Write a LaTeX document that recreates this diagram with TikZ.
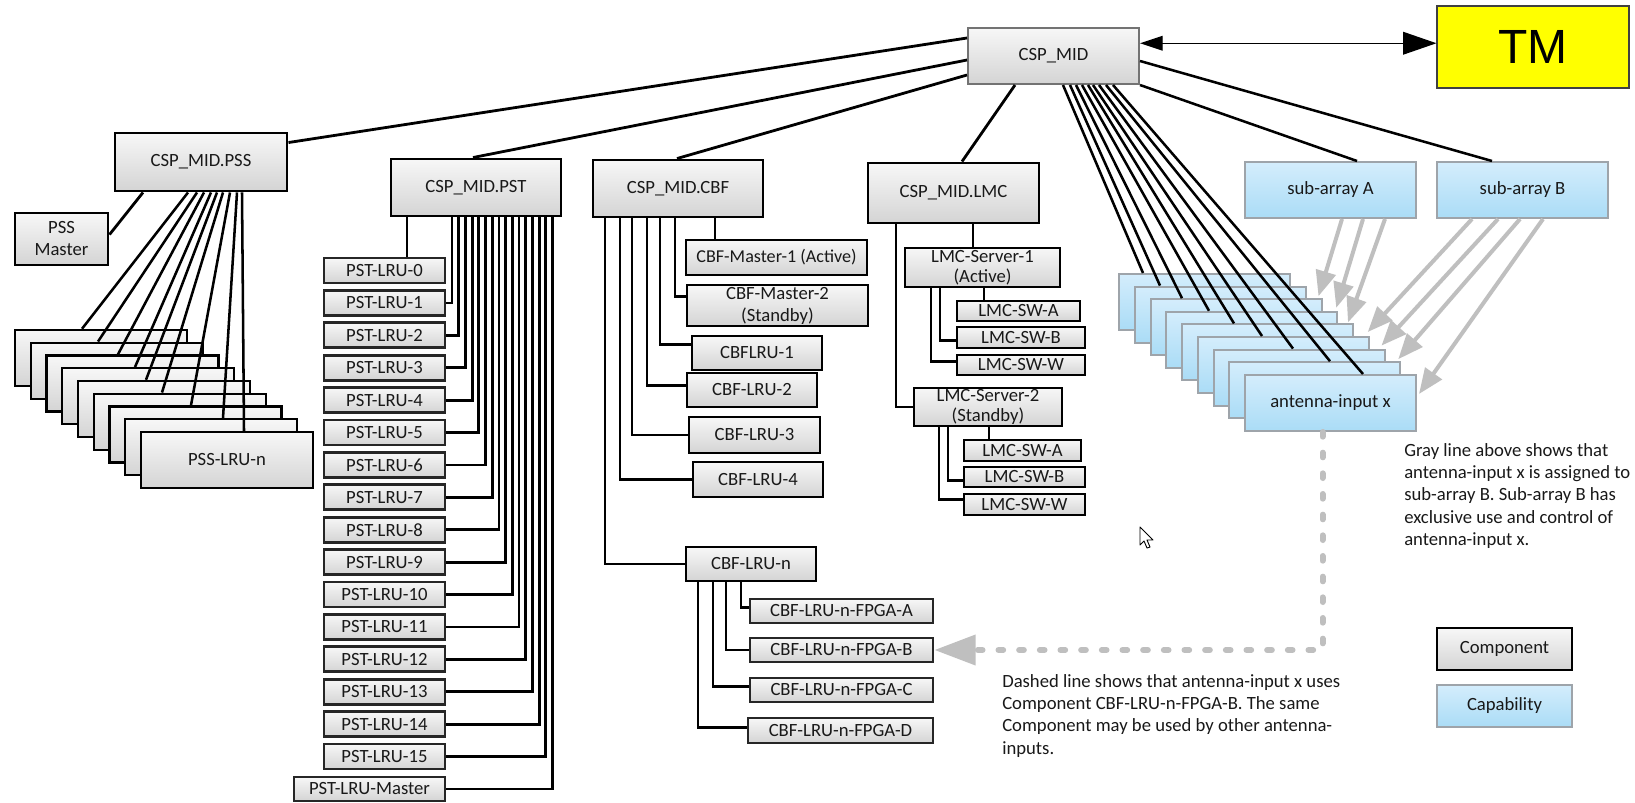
\documentclass[tikz,border=0pt]{standalone}
\usepackage{fontspec}
\setmainfont{Carlito}
\newfontfamily\tmfont{Liberation Sans}
\usetikzlibrary{arrows.meta,calc}

\definecolor{comptop}{RGB}{247,247,247}
\definecolor{compbot}{RGB}{212,212,212}
\definecolor{captop}{RGB}{212,237,252}
\definecolor{capbot}{RGB}{170,220,246}
\definecolor{capline}{RGB}{158,164,170}
\definecolor{assign}{RGB}{191,191,191}
\definecolor{tmyellow}{RGB}{255,255,0}
\definecolor{ink}{RGB}{25,25,25}

% box from its corner coordinates: style, name, x1, y1, x2, y2, text
\newcommand\boxnode[7]{%
  \node[#1, minimum width={((#5)-(#3))*0.75pt}, minimum height={((#6)-(#4))*0.75pt}]
    (#2) at ({((#3)+(#5))/2},{((#4)+(#6))/2}) {#7};}

\tikzset{
  lbl/.style={font=\fontsize{14}{16.5}\selectfont, text=ink, align=center, inner sep=0pt},
  comp/.style={lbl, draw=black, line width=2.2pt, top color=comptop, bottom color=compbot},
  unit/.style={comp, draw=black!85, line width=2pt},
  root/.style={lbl, draw=black!55, line width=1.5pt, top color=comptop, bottom color=compbot},
  capab/.style={lbl, draw=capline, line width=1.5pt, top color=captop, bottom color=capbot},
  conn/.style={draw=black, line width=2.1pt},
  fan/.style={draw=black, line width=1.9pt},
  assigned/.style={draw=assign, line width=3pt, -{Triangle[length=19pt,width=15pt]}},
  uses/.style={draw=assign, line width=4.5pt, line cap=round, dash pattern=on 3.5pt off 12pt,
               -{Triangle[length=31pt,width=22pt]}},
  note/.style={font=\fontsize{14}{16.7}\selectfont, text=ink, align=left, inner sep=0pt, anchor=north west},
}

\begin{document}
\begin{tikzpicture}[x=0.75pt,y=-0.75pt]
\path[use as bounding box, fill=white] (0,0) rectangle (1635,803);

% ---------- top level ----------
\boxnode{root}{csp}{968}{28}{1139}{84}{CSP\_MID}
\boxnode{draw=black!75, line width=0.8pt, fill=tmyellow, inner sep=0pt,
         font=\tmfont\fontsize{36}{36}\selectfont}{tm}{1437}{6}{1629}{88}{TM}
\coordinate (tmlink) at ($(csp.north east)!0.28!(csp.south east)$);
\draw[line width=1pt, {Triangle[length=17pt,width=11pt]}-{Triangle[length=25pt,width=17pt]}]
  (tmlink) -- (tmlink -| tm.west);

% ---------- PSS ----------
\boxnode{comp}{pss}{115}{133}{287}{191}{CSP\_MID.PSS}
\boxnode{comp}{pssm}{15}{213}{108}{265}{PSS\\Master}
\foreach \k in {1,...,8}{
  \pgfmathsetmacro\lx{15+15.75*(\k-1)}
  \pgfmathsetmacro\ty{330+12.75*(\k-1)}
  \boxnode{comp, line width=1.8pt}{s\k}{\lx}{\ty}{\lx+172}{\ty+56}{}
}
\boxnode{comp, line width=1.8pt}{s9}{141}{432}{313}{488}{PSS-LRU-n}

\draw[conn] ($(csp.north west)+(0,11)$) -- ($(pss.north east)+(0,11)$);
\draw[conn] ($(pssm.north east)!0.42!(pssm.south east)$) -- (143,0 |- pss.south);
\foreach \k/\sx/\ex in {1/188/82, 2/197/98, 3/204/118, 4/211/135, 5/217/146,
                        6/223/162, 7/230/191, 8/237/223, 9/242/244}{
  \draw[fan] (\sx,0 |- pss.south) -- (\ex,0 |- s\k.north);
}

% ---------- PST ----------
\boxnode{comp}{pst}{391}{159}{561}{216}{CSP\_MID.PST}
\foreach \i in {0,...,15}{
  \pgfmathsetmacro\yc{270.5+32.4*\i}
  \boxnode{unit}{lru\i}{324}{\yc-12.5}{445}{\yc+12.5}{PST-LRU-\i}
}
\boxnode{unit}{lrum}{294}{777}{445}{801}{PST-LRU-Master}

\draw[conn] ($(csp.north west)+(0,33)$) -- (473,0 |- pst.north);
\draw[conn] (407,0 |- pst.south) -- (407,0 |- lru0.north);
\foreach \i in {1,...,15}{
  \pgfmathsetmacro\xx{452+6.7*(\i-1)}
  \draw[conn] (\xx,0 |- pst.south) |- (lru\i.east);
}
\draw[conn] (552.5,0 |- pst.south) |- (lrum.east);

% ---------- CBF ----------
\boxnode{comp}{cbf}{593}{160}{763}{217}{CSP\_MID.CBF}
\boxnode{comp, font=\fontsize{13.6}{16.5}\selectfont}{m1}{686}{240}{867}{275}{CBF-Master-1 (Active)}
\boxnode{comp}{m2}{687}{285}{868}{326}{CBF-Master-2\\(Standby)}
\boxnode{comp}{c1}{692}{336}{822}{370}{CBFLRU-1}
\boxnode{comp}{c2}{687}{373}{817}{407}{CBF-LRU-2}
\boxnode{comp}{c3}{689}{417}{820}{453}{CBF-LRU-3}
\boxnode{comp}{c4}{693}{462}{823}{497}{CBF-LRU-4}
\boxnode{comp}{cn}{686}{547}{816}{581}{CBF-LRU-n}
\boxnode{unit}{fa}{750}{599}{933}{623}{CBF-LRU-n-FPGA-A}
\boxnode{unit}{fb}{750}{638}{933}{662}{CBF-LRU-n-FPGA-B}
\boxnode{unit}{fc}{750}{678}{933}{702}{CBF-LRU-n-FPGA-C}
\boxnode{unit}{fd}{748}{718}{933}{743}{CBF-LRU-n-FPGA-D}

\draw[conn] ($(csp.north west)+(0,48)$) -- (677,0 |- cbf.north);
\draw[conn] (715,0 |- cbf.south) -- (715,0 |- m1.north);
\draw[conn] (675,0 |- cbf.south) |- ($(m2.north west)!0.3!(m2.south west)$);
\draw[conn] (660,0 |- cbf.south) |- ($(c1.north west)!0.26!(c1.south west)$);
\draw[conn] (647,0 |- cbf.south) |- ($(c2.north west)!0.38!(c2.south west)$);
\draw[conn] (632,0 |- cbf.south) |- (c3.west);
\draw[conn] (620,0 |- cbf.south) |- (c4.west);
\draw[conn] (605,0 |- cbf.south) |- (cn.west);
\draw[conn] (741,0 |- cn.south) |- ($(fa.north west)!0.38!(fa.south west)$);
\draw[conn] (726,0 |- cn.south) |- (fb.west);
\draw[conn] (713,0 |- cn.south) |- ($(fc.north west)!0.38!(fc.south west)$);
\draw[conn] (698,0 |- cn.south) |- ($(fd.north west)!0.4!(fd.south west)$);

% ---------- LMC ----------
\boxnode{comp}{lmc}{868}{163}{1039}{223}{CSP\_MID.LMC}
\boxnode{comp, font=\fontsize{14}{15}\selectfont}{sv1}{905}{248}{1060}{287}{LMC-Server-1\\(Active)}
\boxnode{comp}{w1a}{957}{301}{1080}{321}{LMC-SW-A}
\boxnode{comp}{w1b}{957}{327}{1085}{348}{LMC-SW-B}
\boxnode{comp}{w1w}{957}{355}{1085}{375}{LMC-SW-W}
\boxnode{comp, font=\fontsize{14}{15}\selectfont}{sv2}{914}{388}{1062}{426}{LMC-Server-2\\(Standby)}
\boxnode{comp}{w2a}{964}{440}{1081}{461}{LMC-SW-A}
\boxnode{comp}{w2b}{964}{467}{1085}{487}{LMC-SW-B}
\boxnode{comp}{w2w}{964}{494}{1085}{515}{LMC-SW-W}

\draw[conn] ($(csp.south west)+(48,0)$) -- (962,0 |- lmc.north);
\draw[conn] (973,0 |- lmc.south) -- (973,0 |- sv1.north);
\draw[conn] (984,0 |- sv1.south) -- (984,0 |- w1a.north);
\draw[conn] (940,0 |- sv1.south) |- ($(w1b.north west)!0.62!(w1b.south west)$);
\draw[conn] (931,0 |- sv1.south) |- ($(w1w.north west)!0.35!(w1w.south west)$);
\draw[conn] (896,0 |- lmc.south) |- (sv2.west);
\draw[conn] (989,0 |- sv2.south) -- (989,0 |- w2a.north);
\draw[conn] (948,0 |- sv2.south) |- ($(w2b.north west)!0.65!(w2b.south west)$);
\draw[conn] (939,0 |- sv2.south) |- ($(w2w.north west)!0.3!(w2w.south west)$);

% ---------- capabilities ----------
\boxnode{capab}{sa}{1245}{162}{1416}{218}{sub-array A}
\boxnode{capab}{sb}{1437}{162}{1608}{218}{sub-array B}
\foreach \k in {1,...,8}{
  \pgfmathsetmacro\lx{1119+15.75*(\k-1)}
  \pgfmathsetmacro\ty{274+12.6*(\k-1)}
  \boxnode{capab}{a\k}{\lx}{\ty}{\lx+171}{\ty+56}{}
}
\boxnode{capab}{a9}{1245}{375}{1416}{431}{antenna-input x}

\draw[fan] (csp.south east) -- (1357,0 |- sa.north);
\draw[fan] ($(csp.north east)+(0,34)$) -- (1492,0 |- sb.north);
\foreach \k/\sx/\ex in {1/1063/1143, 2/1070/1160, 3/1076/1182, 4/1082/1209, 5/1088/1234,
                        6/1093/1262, 7/1099/1293, 8/1106/1330, 9/1113/1363}{
  \draw[fan] (\sx,0 |- csp.south) -- (\ex,0 |- a\k.north);
}

% assignment of antenna inputs to sub-arrays
\draw[assigned] (1342,0 |- sa.south) -- ($(a3.north east)+(-4,-2)$);
\draw[assigned] (1363,0 |- sa.south) -- ($(a4.north east)+(-2,-3)$);
\draw[assigned] (1385,0 |- sa.south) -- ($(a5.north east)+(-6,-1)$);
\draw[assigned] (1472,0 |- sb.south) -- ($(a6.north east)+(-2,-4)$);
\draw[assigned] (1498,0 |- sb.south) -- ($(a7.north east)+(-4,-3)$);
\draw[assigned] (1520,0 |- sb.south) -- ($(a8.north east)+(-3,-2)$);
\draw[assigned] (1543,0 |- sb.south) -- ($(a9.north east)+(2,20)$);

% use of a component by the antenna input
\draw[uses] ($(a9.south)+(-8,0)$) |- (fb.east);

% ---------- notes and legend ----------
\node[note] (gnote) at (1404,443) {Gray line above shows that\\antenna-input x is assigned to\\sub-array B. Sub-array B has\\exclusive use and control of\\antenna-input x.};
\node[note] (dnote) at (1002,674) {Dashed line shows that antenna-input x uses\\Component CBF-LRU-n-FPGA-B. The same\\Component may be used by other antenna-\\inputs.};

\boxnode{comp}{lcomp}{1437}{628}{1572}{670}{Component}
\boxnode{capab}{lcap}{1437}{685}{1572}{727}{Capability}

% pointer
\draw[fill=white, line width=0.7pt, line join=round]
  (1140,527) -- (1140,545) -- (1144,541) -- (1147,548) -- (1150,547) -- (1147,540) -- (1153,540) -- cycle;
\end{tikzpicture}
\end{document}
